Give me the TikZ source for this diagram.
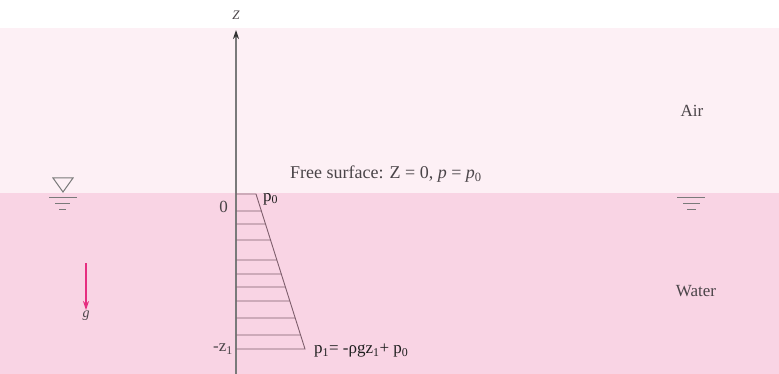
\documentclass[tikz,border=0pt]{standalone}
\usepackage{fontspec}
\setmainfont{Liberation Serif}
\usetikzlibrary{positioning, arrows.meta, calc}
\definecolor{clrair}{HTML}{FDF0F5}
\definecolor{clrwater}{HTML}{F9D4E4}
\definecolor{clraxis}{HTML}{7A7A7A}
\definecolor{clrtext}{HTML}{4A4448}
\definecolor{clrlabel}{HTML}{1F1F1F}
\definecolor{clrprofile}{HTML}{7E5E6C}
\definecolor{clrgravity}{HTML}{E62E80}

\begin{document}
\begin{tikzpicture}[
    x=1pt, y=-1pt,
    >=Stealth,
    every node/.style={font=\fontsize{17}{19}\selectfont, text=clrtext, inner sep=1pt},
    axis/.style={->, color=clraxis, line width=1.4pt, >={Stealth[length=9pt, width=6pt, color=black!80]}},
    profile/.style={draw=clrprofile, line width=0.9pt},
    hatch/.style={draw=clrprofile, line width=0.8pt},
    level/.style={draw=clraxis, line width=1pt},
    gravity/.style={->, color=clrgravity, line width=1.4pt, >={Stealth[length=9pt, width=6pt]}},
    small/.style={font=\fontsize{13}{15}\selectfont},
    plabel/.style={text=clrlabel},
]
\useasboundingbox (0,0) rectangle (779,374);
\fill[clrair] (0,28) rectangle (779,193);
\fill[clrwater] (0,193) rectangle (779,374);

% vertical axis
\coordinate (axis_foot) at (236,374);
\coordinate (axis_tip) at (236,30);
\draw[axis] (axis_foot) -- (axis_tip);
\node[small, font=\fontsize{13}{15}\selectfont\itshape] (z_label) at (236,15) {Z};

% pressure profile
\coordinate (surf_left) at (236,194);
\coordinate (surf_right) at (256,194);
\coordinate (bed_left) at (236,349);
\coordinate (bed_right) at (305,349);
\draw[profile] (surf_left) -- (surf_right) -- (bed_right) -- (bed_left);
\foreach \yy in {211,224,240,260,274,287,301,318,335}
    \draw[hatch] (236,\yy) -- ($(surf_right)!{(\yy-194)/155}!(bed_right)$);

\node[left=7pt of surf_left, anchor=east, yshift=-13pt] (zero_label) {0};
\node[plabel, anchor=west] (p0_label) at (262,199) {p\textsubscript{0}};
\node[left=2pt of bed_left, anchor=east] (z1_label) {-z\textsubscript{1}};
\node[plabel, right=8pt of bed_right, anchor=west, yshift=-2pt] (p1_label) {p\textsubscript{1}= -ρgz\textsubscript{1}+ p\textsubscript{0}};

% free surface and media
\node[font=\fontsize{18}{20}\selectfont] (surface_label) at (386,174) {Free surface: Z = 0, \textit{p} = \textit{p}\textsubscript{0}};
\node (air_label) at (692,111) {Air};
\node (water_label) at (696,291) {Water};

% water level symbols
\coordinate (tri_apex) at (63,192);
\draw[level] (tri_apex) -- (53,178) -- (73,178) -- cycle;
\draw[level] (49,198) -- (77,198);
\draw[level] (55,204) -- (70,204);
\draw[level] (59,210) -- (66,210);
\draw[level] (677,198) -- (705,198);
\draw[level] (683,204) -- (700,204);
\draw[level] (687,210) -- (696,210);

% gravity
\coordinate (g_start) at (86,263);
\node[small, font=\fontsize{14}{16}\selectfont\itshape] (g_label) at (86,316) {g};
\draw[gravity] (g_start) -- (g_label.north);
\end{tikzpicture}
\end{document}
